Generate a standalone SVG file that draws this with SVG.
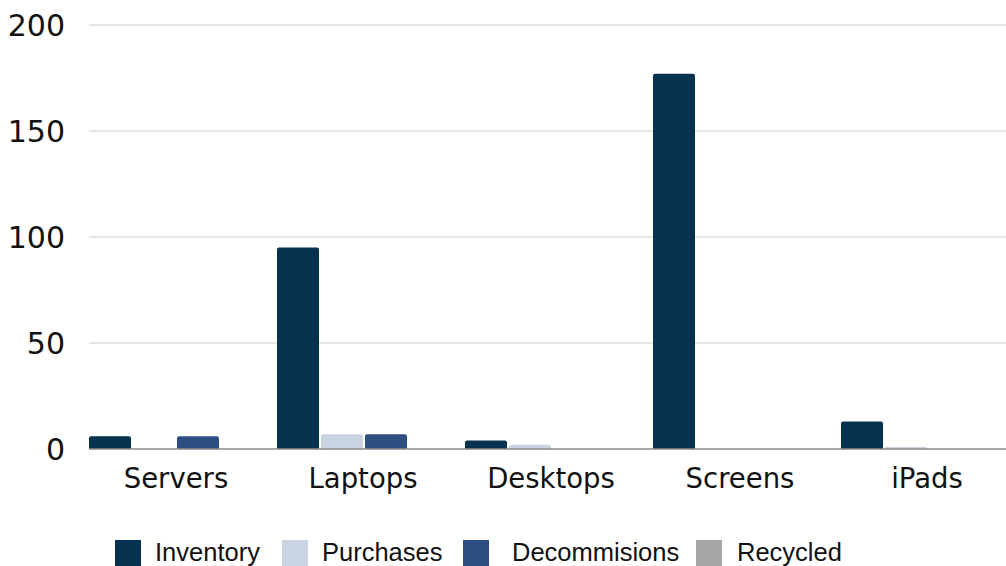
<svg xmlns="http://www.w3.org/2000/svg" width="1006" height="566" viewBox="0 0 1006 566">
<style>
.grid{stroke:#cccccc;stroke-width:1}
.axis{stroke:#8a8a8a;stroke-width:1.5}
.ylab{font-family:"DejaVu Sans",sans-serif;font-size:30px;fill:#111;text-anchor:end}
.xlab{font-family:"DejaVu Sans",sans-serif;font-size:27.5px;fill:#111;text-anchor:middle}
.leg{font-family:"Liberation Sans",Arial,sans-serif;font-size:25.5px;fill:#111}
.inv{fill:#06314f}
.pur{fill:#c9d3e2}
.dec{fill:#2e4f82}
.rec{fill:#a6a6a6}
</style>
<rect width="1006" height="566" fill="#ffffff"/>
<g id="gridlines">
<line class="grid" x1="89" y1="25" x2="1006" y2="25"/>
<line class="grid" x1="89" y1="131" x2="1006" y2="131"/>
<line class="grid" x1="89" y1="237" x2="1006" y2="237"/>
<line class="grid" x1="89" y1="343" x2="1006" y2="343"/>
</g>
<g id="y-labels">
<text class="ylab" x="65" y="36">200</text>
<text class="ylab" x="65" y="142">150</text>
<text class="ylab" x="65" y="248">100</text>
<text class="ylab" x="65" y="354">50</text>
<text class="ylab" x="65" y="460">0</text>
</g>
<g id="bars">
<g id="servers">
<path class="inv" d="M89,449V438.3a2,2 0 0 1 2,-2H129a2,2 0 0 1 2,2V449Z"/>
<path class="dec" d="M177,449V438.3a2,2 0 0 1 2,-2H217a2,2 0 0 1 2,2V449Z"/>
</g>
<g id="laptops">
<path class="inv" d="M277,449V249.6a2,2 0 0 1 2,-2H317a2,2 0 0 1 2,2V449Z"/>
<path class="pur" d="M321,449V436.2a2,2 0 0 1 2,-2H361a2,2 0 0 1 2,2V449Z"/>
<path class="dec" d="M365,449V436.2a2,2 0 0 1 2,-2H405a2,2 0 0 1 2,2V449Z"/>
</g>
<g id="desktops">
<path class="inv" d="M465,449V442.5a2,2 0 0 1 2,-2H505a2,2 0 0 1 2,2V449Z"/>
<path class="pur" d="M509,449V446.8a2,2 0 0 1 2,-2H549a2,2 0 0 1 2,2V449Z"/>
</g>
<g id="screens">
<path class="inv" d="M653,449V75.8a2,2 0 0 1 2,-2H693a2,2 0 0 1 2,2V449Z"/>
</g>
<g id="ipads">
<path class="inv" d="M841,449V423.4a2,2 0 0 1 2,-2H881a2,2 0 0 1 2,2V449Z"/>
<path class="pur" d="M885,449V447.9a1,1 0 0 1 1,-1H926a1,1 0 0 1 1,1V449Z"/>
</g>
</g>
<g id="axis">
<line class="axis" x1="89" y1="449" x2="1006" y2="449"/>
</g>
<g id="x-labels">
<text class="xlab" x="176" y="488">Servers</text>
<text class="xlab" x="363" y="488">Laptops</text>
<text class="xlab" x="551" y="488">Desktops</text>
<text class="xlab" x="740" y="488">Screens</text>
<text class="xlab" x="927" y="488">iPads</text>
</g>
<g id="legend">
<rect class="inv" x="115" y="540" width="26" height="26"/>
<text class="leg" x="155" y="561">Inventory</text>
<rect class="pur" x="282" y="540" width="26" height="26"/>
<text class="leg" x="322" y="561">Purchases</text>
<rect class="dec" x="463" y="540" width="26" height="26"/>
<text class="leg" x="512" y="561">Decommisions</text>
<rect class="rec" x="696" y="540" width="26" height="26"/>
<text class="leg" x="737" y="561">Recycled</text>
</g>
</svg>
